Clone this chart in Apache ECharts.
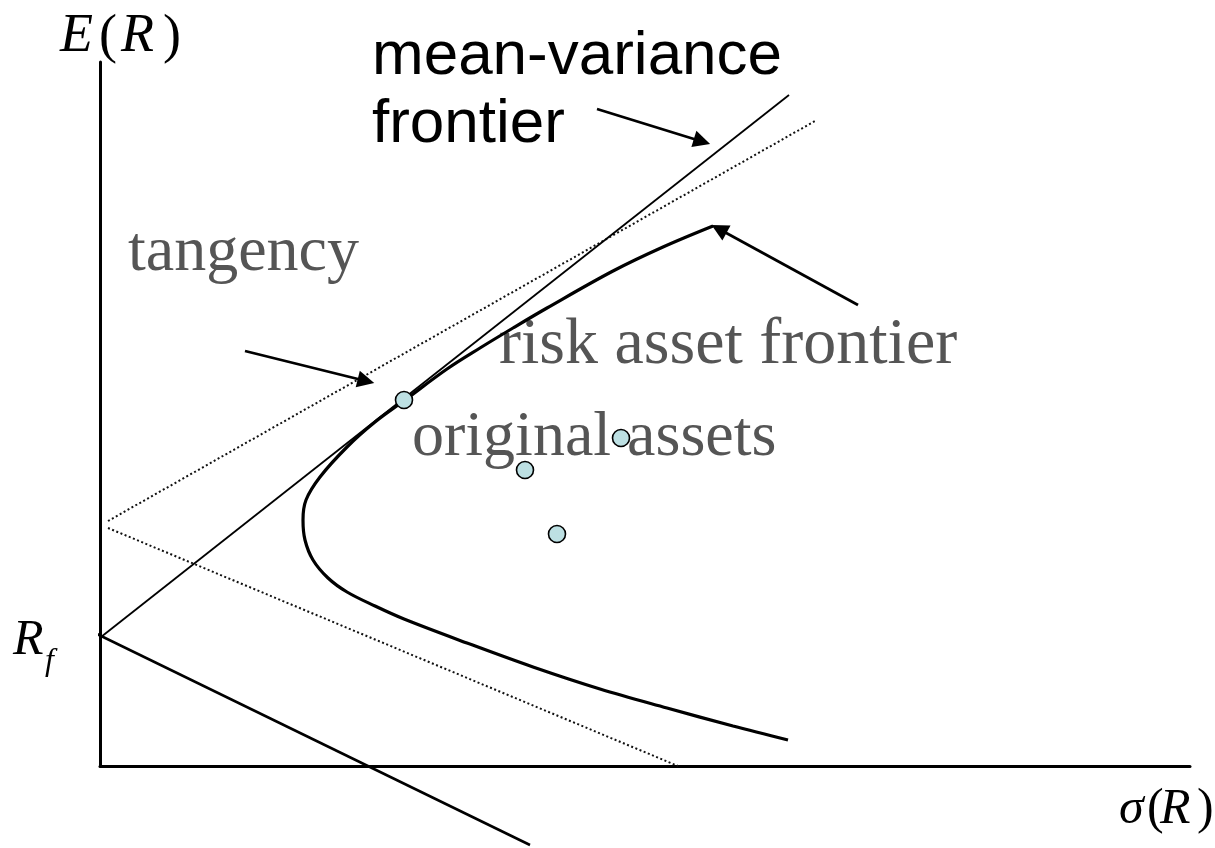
<!DOCTYPE html>
<html>
<head>
<meta charset="utf-8">
<script src="https://cdn.jsdelivr.net/npm/echarts@6/dist/echarts.min.js"></script>
<style>
  html, body { margin: 0; padding: 0; background: #fff; }
  #chart { width: 1215px; height: 848px; }
</style>
</head>
<body>
<div id="chart"></div>
<script>
// units: sigma / E(R)
const frontierSigma = [6.13, 5.63, 5.13, 4.47, 4.13, 3.80, 3.47, 3.05, 2.75, 2.47, 2.20, 2.06, 2.03, 2.05, 2.13, 2.28, 2.47, 2.75, 3.04, 3.67, 4.33, 5.00, 5.67, 6.33, 6.88]
const frontierMean  = [5.40, 5.19, 4.95, 4.58, 4.38, 4.18, 3.97, 3.66, 3.44, 3.19, 2.89, 2.66, 2.46, 2.26, 2.06, 1.88, 1.74, 1.60, 1.47, 1.23, 0.99, 0.77, 0.58, 0.40, 0.26]

const assetSigma = [3.04, 5.21, 4.25, 4.57]
const assetMean  = [3.66, 3.28, 2.96, 2.32]

const cmlUp      = [[0.01, 1.29], [6.89, 6.71]]
const cmlDown    = [[-0.07, 1.34], [4.30, -0.79]]
const dottedUp   = [[0.08, 2.45], [7.15, 6.45]]
const dottedDown = [[0.08, 2.38], [5.78, 0.00]]

const arrowMV      = [[4.97, 6.57], [6.02, 6.245]]
const arrowTangent = [[1.45, 4.15], [2.66, 3.85]]
const arrowRisky   = [[7.58, 4.61], [6.19, 5.37]]

const chart = echarts.init(document.getElementById('chart'))

const serif = '"Liberation Serif", "DejaVu Serif", serif'
const sans = '"Liberation Sans", Arial, sans-serif'

const txt = (x, y, text, font, fill) => ({
  type: 'text', x, y, z: 1,
  style: { text, font, fill: fill || '#000', verticalAlign: 'middle' }
})

const option = {
  animation: false,
  grid: { left: 100, right: 25, top: 62, bottom: 82 },
  xAxis: {
    type: 'value', min: 0, max: 10.9,
    axisLine: { lineStyle: { color: '#000', width: 3 } },
    axisTick: { show: false }, axisLabel: { show: false }, splitLine: { show: false }
  },
  yAxis: {
    type: 'value', min: 0, max: 7.04,
    axisLine: { lineStyle: { color: '#000', width: 3 } },
    axisTick: { show: false }, axisLabel: { show: false }, splitLine: { show: false }
  },
  graphic: [
    txt(372, 57, 'mean-variance', '62px ' + sans),
    txt(372, 125, 'frontier', '62px ' + sans),
    txt(128, 253, 'tangency', '64px ' + serif, '#555'),
    txt(499, 346, 'risk asset frontier', '66px ' + serif, '#555'),
    txt(412, 438, 'original assets', '64px ' + serif, '#555'),
    txt(60, 37, 'E', 'italic 54px ' + serif),
    txt(99, 38, '(', '54px ' + serif),
    txt(121, 37, 'R', 'italic 54px ' + serif),
    txt(163, 38, ')', '54px ' + serif),
    txt(13, 641, 'R', 'italic 50px ' + serif),
    txt(45, 662, 'f', 'italic 32px ' + serif),
    txt(1119, 810, 'σ', 'italic 50px ' + serif),
    txt(1147, 810, '(', '50px ' + serif),
    txt(1160, 810, 'R', 'italic 50px ' + serif),
    txt(1197, 810, ')', '50px ' + serif)
  ],
  series: [
    {
      type: 'line', smooth: 0.35, symbol: 'none', z: 5,
      data: frontierSigma.map((s, i) => [s, frontierMean[i]]),
      lineStyle: { color: '#000', width: 3.2 }
    },
    {
      type: 'line', symbol: 'none', data: cmlUp, z: 4,
      lineStyle: { color: '#000', width: 1.8 }
    },
    {
      type: 'line', symbol: 'none', data: cmlDown, clip: false, z: 4,
      lineStyle: { color: '#000', width: 2.6 }
    },
    {
      type: 'line', symbol: 'none', data: dottedUp, z: 3,
      lineStyle: { color: '#111', width: 2, type: [2, 2.5] }
    },
    {
      type: 'line', symbol: 'none', data: dottedDown, z: 3,
      lineStyle: { color: '#111', width: 2, type: [2, 2.5] }
    },
    {
      type: 'lines', coordinateSystem: 'cartesian2d', z: 6,
      symbol: ['none', 'triangle'], symbolSize: 17,
      lineStyle: { color: '#000', width: 2.8, opacity: 1 },
      data: [arrowMV, arrowTangent, arrowRisky].map(a => ({ coords: a }))
    },
    {
      type: 'scatter', z: 10, symbolSize: 17,
      data: assetSigma.map((s, i) => [s, assetMean[i]]),
      itemStyle: { color: '#bde0e3', borderColor: '#000', borderWidth: 1.6, opacity: 1 }
    }
  ]
}

chart.setOption(option)
window.addEventListener('resize', () => chart.resize())
</script>
</body>
</html>
